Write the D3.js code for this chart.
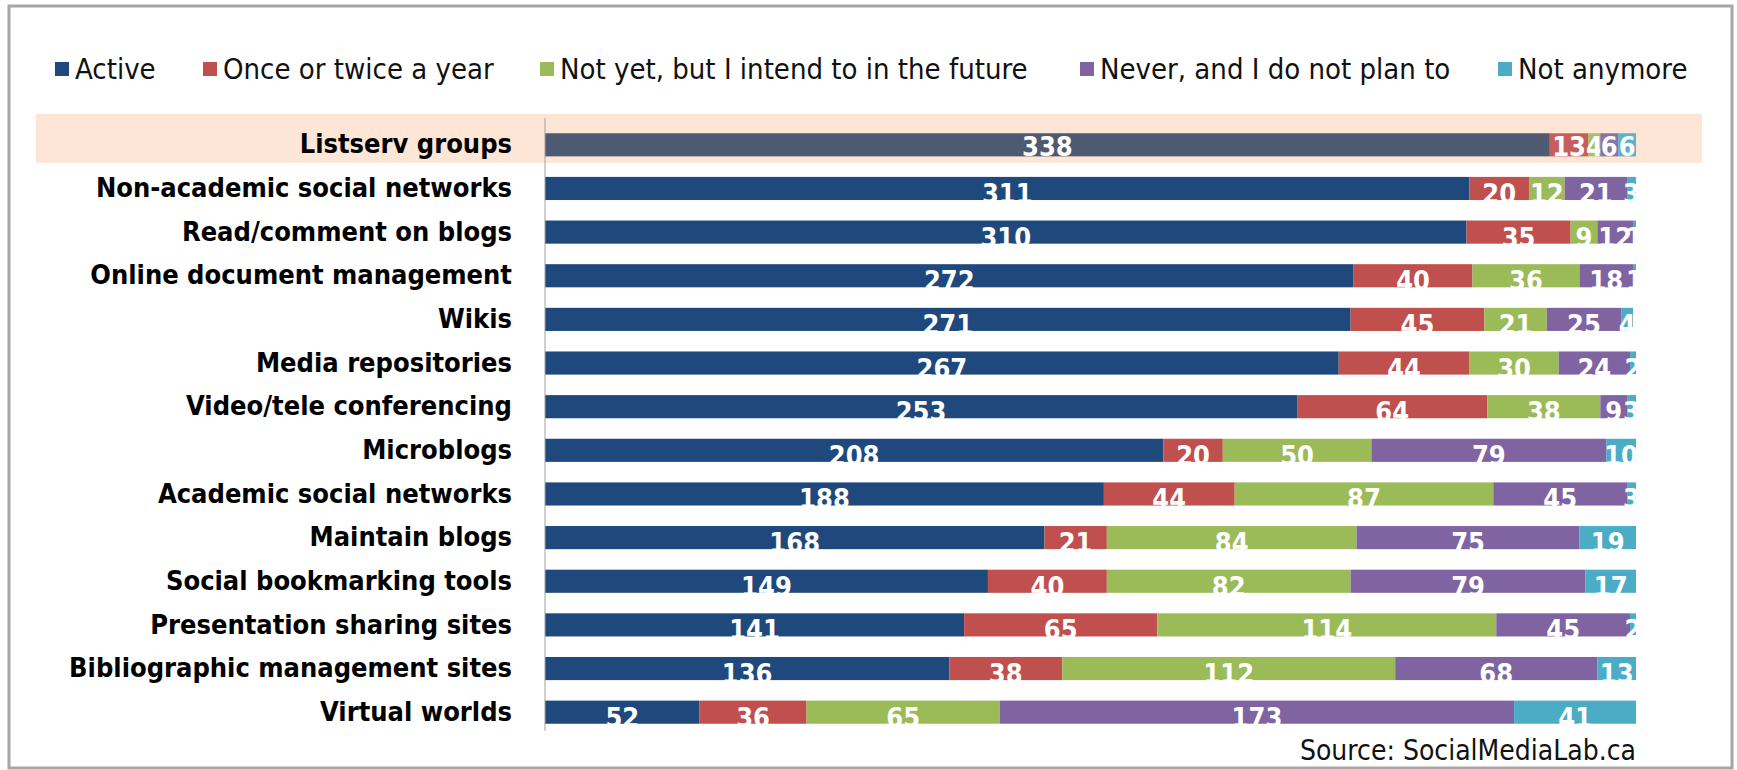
<!DOCTYPE html>
<html>
<head>
<meta charset="utf-8">
<script src="https://cdn.jsdelivr.net/npm/d3@7"></script>
<style>
  body { margin: 0; background: #fff; }
  svg { display: block; }
  .lbl { font-family: "Liberation Sans Narrow", "DejaVu Sans Condensed", sans-serif; }
</style>
</head>
<body>
<div class="chart_wrapper"></div>
<script>

// categories, top to bottom
const categories = [
  "Listserv groups",
  "Non-academic social networks",
  "Read/comment on blogs",
  "Online document management",
  "Wikis",
  "Media repositories",
  "Video/tele conferencing",
  "Microblogs",
  "Academic social networks",
  "Maintain blogs",
  "Social bookmarking tools",
  "Presentation sharing sites",
  "Bibliographic management sites",
  "Virtual worlds"
]

const seriesNames = ["Active", "Once or twice a year", "Not yet, but I intend to in the future", "Never, and I do not plan to", "Not anymore"]

const active     = [338, 311, 310, 272, 271, 267, 253, 208, 188, 168, 149, 141, 136, 52]
const onceTwice  = [13, 20, 35, 40, 45, 44, 64, 20, 44, 21, 40, 65, 38, 36]
const notYet     = [4, 12, 9, 36, 21, 30, 38, 50, 87, 84, 82, 114, 112, 65]
const never      = [6, 21, 12, 18, 25, 24, 9, 79, 45, 75, 79, 45, 68, 173]
const notAnymore = [6, 3, 1, 1, 4, 2, 3, 10, 3, 19, 17, 2, 13, 41]

const colors = ["#1f497d", "#c0504d", "#9bbb59", "#8064a2", "#4bacc6"]
const highlightActive = "#4d5a72"

const seriesValues = [active, onceTwice, notYet, never, notAnymore]

// table for d3.stack
const dataset = categories.map((c, i) => {
  const row = {cat: c}
  seriesNames.forEach((s, j) => row[s] = seriesValues[j][i])
  return row
})

let dimensions = {
  width: 1737,
  height: 770,
  margin: {top: 123, right: 101, bottom: 36, left: 545},
}
dimensions.boundedWidth = dimensions.width - dimensions.margin.left - dimensions.margin.right
dimensions.boundedHeight = dimensions.height - dimensions.margin.top - dimensions.margin.bottom

const wrapper = d3.select(".chart_wrapper")
  .append("svg")
    .attr("width", dimensions.width)
    .attr("height", dimensions.height)

// frame
wrapper.append("rect")
  .attr("x", 9).attr("y", 6)
  .attr("width", 1723).attr("height", 762)
  .attr("fill", "none")
  .attr("stroke", "#a6a6a6")
  .attr("stroke-width", 3)

const bounds = wrapper.append("g")
  .attr("transform", `translate(${dimensions.margin.left},${dimensions.margin.top})`)

const stacked = d3.stack().keys(seriesNames)(dataset)

const xScale = d3.scaleLinear()
  .domain([0, 367])
  .range([0, dimensions.boundedWidth])

const yScale = d3.scaleBand()
  .domain(categories)
  .range([0, dimensions.boundedHeight])
  .paddingInner(0.47)
  .paddingOuter(0.235)

// highlight band behind first row
bounds.append("rect")
  .attr("x", 36 - dimensions.margin.left)
  .attr("y", yScale(categories[0]) + yScale.bandwidth() / 2 - 31)
  .attr("width", 1702 - 36)
  .attr("height", 49)
  .attr("fill", "#fde6d6")

// bars
const layers = bounds.selectAll(".layer")
  .data(stacked)
  .join("g")
    .attr("class", "layer")

layers.selectAll("rect")
  .data((d, j) => d.map(p => ({p, j})))
  .join("rect")
    .attr("x", d => xScale(d.p[0]))
    .attr("y", d => yScale(d.p.data.cat))
    .attr("width", d => xScale(d.p[1]) - xScale(d.p[0]))
    .attr("height", yScale.bandwidth())
    .attr("fill", d => (d.j == 0 && d.p.data.cat == categories[0]) ? highlightActive : colors[d.j])
    .attr("opacity", d => d.p.data.cat == categories[0] && d.j > 0 ? 0.9 : 1)

// value labels
layers.selectAll("text")
  .data((d, j) => d.map(p => ({p, j})))
  .join("text")
    .attr("class", "lbl")
    .attr("x", d => xScale((d.p[0] + d.p[1]) / 2))
    .attr("y", d => yScale(d.p.data.cat) + yScale.bandwidth() / 2 + (d.p.data.cat == categories[0] ? 2 : 5))
    .attr("text-anchor", "middle")
    .attr("dominant-baseline", "central")
    .attr("fill", "#fff")
    .style("font-size", "27px")
    .style("font-weight", "bold")
    .text(d => d.p[1] - d.p[0])

// y axis
const yAxis = d3.axisLeft(yScale).tickSize(0).tickPadding(33)
const yAxisG = bounds.append("g").call(yAxis)
yAxisG.select(".domain")
  .attr("stroke", "#a0a0a0")
  .attr("d", `M0,-5V${dimensions.boundedHeight - 3}`)
yAxisG.selectAll("text")
  .attr("class", "lbl")
  .attr("fill", "#000")
  .style("font-size", "27px")
  .style("font-weight", "bold")

// legend
const legendX = [55, 203, 540, 1080, 1498]
const legend = wrapper.append("g")
  .selectAll("g")
  .data(seriesNames)
  .join("g")
    .attr("transform", (d, i) => `translate(${legendX[i]},69)`)

legend.append("rect")
  .attr("x", 0).attr("y", -7)
  .attr("width", 14).attr("height", 14)
  .attr("fill", (d, i) => colors[i])

legend.append("text")
  .attr("class", "lbl")
  .attr("x", 20)
  .attr("dominant-baseline", "central")
  .style("font-size", "29px")
  .attr("fill", "#111")
  .text(d => d)

// source
wrapper.append("text")
  .attr("class", "lbl")
  .attr("x", 1636)
  .attr("y", 760)
  .attr("text-anchor", "end")
  .style("font-size", "28px")
  .attr("fill", "#111")
  .text("Source: SocialMediaLab.ca")

</script>
</body>
</html>
